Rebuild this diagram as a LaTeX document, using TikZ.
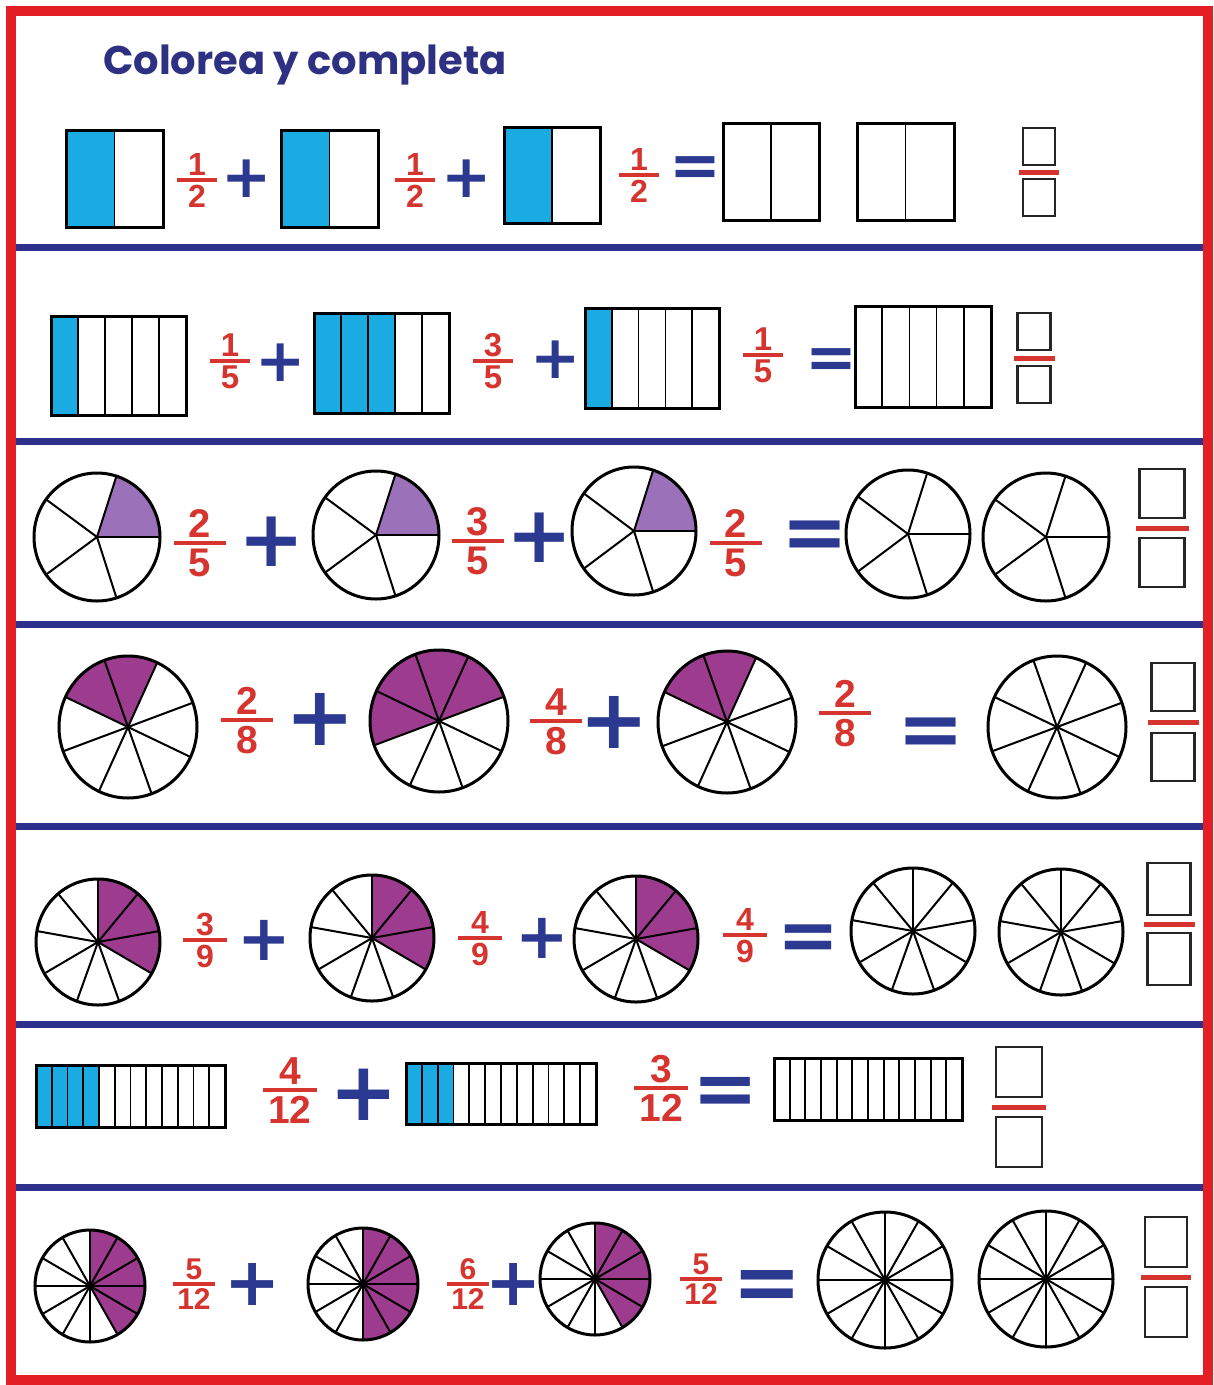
\documentclass[tikz,border=0pt]{standalone}
\usepackage{fontspec}
\setmainfont{Liberation Sans}
\newfontfamily\titlefont{Poppins}
\newfontfamily\fracfont{Liberation Sans}
\newfontfamily\opsfont{DejaVu Sans}
\usepackage{xcolor}
\usepackage{tikz}
\usetikzlibrary{calc}
\definecolor{framered}{HTML}{E31E24}
\definecolor{sepblue}{HTML}{2D318C}
\definecolor{titleblue}{HTML}{2E3182}
\definecolor{opblue}{HTML}{2B3990}
\definecolor{fracred}{HTML}{D6342F}
\definecolor{cyanfill}{HTML}{1AABE3}
\definecolor{lavfill}{HTML}{9B72BA}
\definecolor{plumfill}{HTML}{9D3B8E}

% bar split in equal parts: x, y, width, height, parts, coloured parts
\newcommand{\barat}[6]{%
  \pgfmathsetmacro\partw{#3/#5}%
  \pgfmathtruncatemacro\lastdiv{#5-1}%
  \ifnum#6>0 \fill[cyanpart] (#1,#2) rectangle ++({#6*\partw},#4);\fi
  \foreach \j in {1,...,\lastdiv}{\draw[divline] ({#1+\j*\partw},#2) -- ++(0,#4);}%
  \draw[boxline] (#1,#2) rectangle ++(#3,#4);%
}
% pie: cx, cy, rx, ry, slices, first spoke (deg), coloured slices, fill
\newcommand{\pieat}[8]{%
  \pgfmathsetmacro\slice{360/#5}%
  \ifnum#7>0 \fill[#8] (#1,#2) -- ++({-(#6)}:#3 and #4) arc[start angle={-(#6)}, end angle={-(#6)+#7*\slice}, x radius=#3, y radius=#4] -- cycle;\fi
  \foreach \j in {1,...,#5}{\draw[spoke] (#1,#2) -- ++({-(#6)+\j*\slice}:#3 and #4);}%
  \draw[rim] (#1,#2) ellipse[x radius=#3, y radius=#4];%
}
% fraction: name, x, y of bar, numerator, denominator, font size, half bar
\newcommand{\fracat}[7]{%
  \node[fnum=#6, anchor=south] (#1n) at (#2,{#3-0.13*#6}) {#4};
  \node[fnum=#6, anchor=north] (#1d) at (#2,{#3+0.15*#6}) {#5};
  \draw[fbar] (#2-#7,#3) -- (#2+#7,#3);
}
% empty answer: cx, box width, box height, y of bar, gap
\newcommand{\ansat}[5]{%
  \draw[ansbox] (#1-#2/2,#4-#5-#3) rectangle (#1+#2/2,#4-#5);
  \draw[ansbox] (#1-#2/2,#4+#5) rectangle (#1+#2/2,#4+#5+#3);
  \draw[ansbar] (#1-#2/2-4,#4) -- (#1+#2/2+4,#4);
}

\begin{document}
\begin{tikzpicture}[x=1pt, y=-1pt,
  redframe/.style={draw=framered, line width=10pt},
  rowsep/.style={draw=sepblue, line width=7pt},
  ttl/.style={text=titleblue, inner sep=0pt, font=\titlefont\bfseries\fontsize{40}{40}\selectfont},
  cyanpart/.style={fill=cyanfill},
  boxline/.style={draw=black, line width=3pt},
  divline/.style={draw=black, line width=1.7pt},
  rim/.style={draw=black, line width=3pt},
  spoke/.style={draw=black, line width=2pt, line cap=round},
  fnum/.style={text=fracred, inner sep=0pt, font={\fracfont\bfseries\fontsize{#1}{#1}\selectfont}},
  fbar/.style={draw=fracred, line width=4pt},
  opsign/.style={text=opblue, inner sep=0pt, font={\opsfont\bfseries\fontsize{#1}{#1}\selectfont}},
  ansbox/.style={draw=black!85, line width=2.6pt},
  ansbar/.style={draw=fracred, line width=5pt},
]
\useasboundingbox (0,0) rectangle (1214,1385);
\fill[white] (0,0) rectangle (1214,1385);
% ----- title -----
\node[ttl, anchor=base west] (title) at (103,74) {Colorea y completa};
% ----- row 1: halves -----
\barat{66}{130}{97}{97}{2}{1}
\fracat{fa}{197}{180}{1}{2}{32}{20}
\node[opsign=60] (pa) at (247,179) {+};
\barat{281}{130}{97}{97}{2}{1}
\fracat{fb}{415}{180}{1}{2}{32}{20}
\node[opsign=60] (pb) at (467,179) {+};
\barat{504}{127}{96}{96}{2}{1}
\fracat{fc}{639}{175}{1}{2}{32}{20}
\node[opsign=62] (ea) at (695,172) {=};
\barat{723}{123}{96}{97}{2}{0}
\barat{857}{123}{97}{97}{2}{0}
\ansat{1039}{32}{37}{172}{7}
% ----- row 2: fifths -----
\barat{51}{316}{135}{99}{5}{1}
\fracat{fd}{230}{361}{1}{5}{33}{20}
\node[opsign=60] (pc) at (281,363) {+};
\barat{314}{313}{135}{100}{5}{3}
\fracat{fe}{493}{361}{3}{5}{33}{20}
\node[opsign=60] (pd) at (556,360) {+};
\barat{585}{308}{134}{100}{5}{1}
\fracat{ff}{763}{355}{1}{5}{33}{20}
\node[opsign=62] (eb) at (831,364) {=};
\barat{855}{306}{136}{101}{5}{0}
\ansat{1034}{33}{37}{358}{8}
% ----- row 3: pies in five -----
\pieat{97}{537}{63}{64}{5}{72}{1}{lavfill}
\fracat{fg}{200}{543}{2}{5}{40}{26}
\node[opsign=79] (pe) at (272,542) {+};
\pieat{376}{535}{63}{64}{5}{72}{1}{lavfill}
\fracat{fh}{478}{541}{3}{5}{40}{26}
\node[opsign=79] (pf) at (540,538) {+};
\pieat{634}{531}{62}{64}{5}{72}{1}{lavfill}
\fracat{fi}{736}{543}{2}{5}{40}{26}
\node[opsign=80] (ec) at (815,540) {=};
\pieat{908}{534}{62}{64}{5}{72}{0}{lavfill}
\pieat{1046}{537}{63}{64}{5}{72}{0}{lavfill}
\ansat{1162}{45}{49}{528}{10}
% ----- row 4: pies in eight -----
\pieat{128}{727}{69}{71}{8}{155}{2}{plumfill}
\fracat{fj}{247}{720}{2}{8}{39}{26}
\node[opsign=83] (pg) at (320,719) {+};
\pieat{439}{721}{69}{71}{8}{200}{4}{plumfill}
\fracat{fk}{556}{721}{4}{8}{39}{26}
\node[opsign=83] (ph) at (614,722) {+};
\pieat{727}{722}{69}{71}{8}{155}{2}{plumfill}
\fracat{fl}{845}{713}{2}{8}{39}{26}
\node[opsign=80] (ed) at (931,737) {=};
\pieat{1057}{727}{69}{71}{8}{155}{0}{plumfill}
\ansat{1173}{43}{48}{722}{11}
% ----- row 5: pies in nine -----
\pieat{98}{942}{62}{63}{9}{90}{3}{plumfill}
\fracat{fm}{205}{940}{3}{9}{32}{22}
\node[opsign=64] (pi) at (264,940) {+};
\pieat{372}{938}{62}{63}{9}{90}{3}{plumfill}
\fracat{fn}{480}{938}{4}{9}{32}{22}
\node[opsign=64] (pj) at (542,938) {+};
\pieat{636}{939}{62}{63}{9}{90}{3}{plumfill}
\fracat{fo}{745}{935}{4}{9}{32}{22}
\node[opsign=74] (ee) at (808,943) {=};
\pieat{913}{931}{62}{63}{9}{90}{0}{plumfill}
\pieat{1061}{932}{62}{63}{9}{90}{0}{plumfill}
\ansat{1169}{43}{52}{924}{9}
% ----- row 6: twelfths -----
\barat{36}{1065}{189}{62}{12}{4}
\fracat{fp}{290}{1090}{4}{12}{39}{27}
\node[opsign=82] (pk) at (364,1095) {+};
\barat{406}{1063}{190}{61}{12}{3}
\fracat{fq}{661}{1088}{3}{12}{39}{27}
\node[opsign=79] (ef) at (726,1096) {=};
\barat{774}{1058}{188}{62}{12}{0}
\ansat{1019}{46}{50}{1107}{10}
% ----- row 7: pies in twelve -----
\pieat{90}{1286}{55}{56}{12}{90}{5}{plumfill}
\fracat{fr}{194}{1284}{5}{12}{30}{21}
\node[opsign=67] (pl) at (253,1284) {+};
\pieat{363}{1284}{55}{56}{12}{90}{6}{plumfill}
\fracat{fs}{468}{1284}{6}{12}{30}{21}
\node[opsign=67] (pm) at (514,1284) {+};
\pieat{595}{1279}{55}{56}{12}{90}{5}{plumfill}
\fracat{ft}{701}{1279}{5}{12}{30}{21}
\node[opsign=83] (eg) at (767,1290) {=};
\pieat{885}{1280}{67}{68}{12}{90}{0}{plumfill}
\pieat{1046}{1279}{67}{68}{12}{90}{0}{plumfill}
\ansat{1166}{42}{50}{1277}{10}
% ----- separators and frame -----
\foreach \sy in {247,441,624,826,1024,1187}
  \draw[rowsep] (16,\sy) -- (1206,\sy);
\draw[redframe] (11,11) rectangle (1208,1380);
\end{tikzpicture}
\end{document}
